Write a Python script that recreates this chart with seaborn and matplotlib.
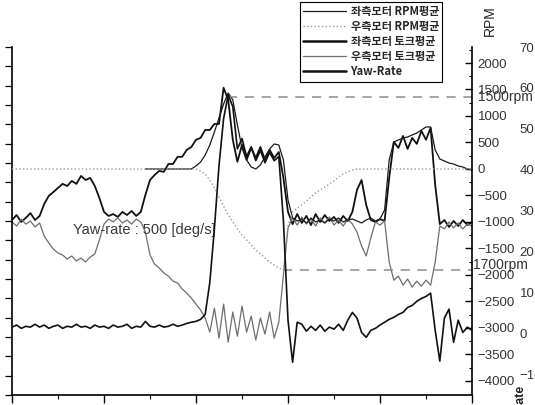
import numpy as np
import matplotlib.pyplot as plt
from matplotlib.lines import Line2D
from matplotlib.ticker import MultipleLocator
from matplotlib.font_manager import FontProperties
import seaborn as sns

# ---- data ----
# time [s], one reading every 0.5 s
time = np.arange(0, 50.5, 0.5)

# motor torque averages (left axis, unlabeled in the crop)
torque_left = [
    0.5, 3.1, -0.5, 1.6, 4.1, 0.5, 2.6, 8.8, 13.0, 15.0,
    17.1, 19.2, 18.1, 20.7, 19.2, 23.3, 21.2, 22.3, 18.1, 11.9,
    4.7, 2.6, 3.6, 2.1, 4.7, 3.1, 5.2, 2.6, 4.7, 13.5,
    21.2, 23.8, 25.9, 25.4, 29.5, 29.5, 33.2, 33.2, 36.8, 38.3,
    42.0, 43.0, 47.1, 47.1, 50.2, 50.2, 68.9, 62.7, 42.0, 30.6,
    39.4, 31.6, 37.8, 32.6, 38.3, 31.6, 36.8, 32.6, 35.7, 22.3,
    4.7, -1.6, 3.6, -1.0, 2.6, -2.1, 3.6, -0.5, 3.1, 0.0,
    2.1, -1.0, 2.6, 0.0, 4.7, 16.1, 21.2, 8.3, 0.5, -0.5,
    1.0, 0.0, 22.3, 40.9, 37.8, 44.0, 37.3, 43.0, 39.9, 46.6,
    42.0, 48.2, 18.6, -1.6, 0.5, -3.1, 0.0, -2.6, 0.5, -2.1,
    -0.5,
]
torque_right = [
    -0.5, -2.6, 1.0, -1.6, 0.0, -3.1, -1.0, -7.8, -11.4, -14.5,
    -16.6, -17.6, -19.7, -18.1, -20.7, -19.2, -21.2, -18.6, -17.1, -9.8,
    -1.6, 1.0, -0.5, 1.6, -1.0, 0.5, -1.6, 1.0, -0.5, -5.7,
    -17.6, -22.3, -24.3, -26.9, -28.5, -31.1, -32.1, -35.2, -37.3, -39.9,
    -43.0, -46.1, -50.2, -57.5, -45.1, -60.6, -43.0, -62.7, -47.1, -59.6,
    -44.0, -57.5, -49.2, -61.6, -50.2, -58.5, -47.1, -60.6, -52.3, -28.0,
    -3.6, 1.6, -2.1, 2.1, -1.6, 1.0, -2.6, 1.6, -1.0, 2.1,
    -2.1, 0.5, -2.6, 1.0, -1.6, -5.7, -13.0, -18.1, -8.8, -0.5,
    -2.1, 0.0, -21.2, -30.6, -28.5, -33.2, -30.0, -34.2, -31.1, -33.7,
    -30.6, -33.2, -21.2, -2.6, -4.1, -0.5, -3.6, -1.0, -4.1, -1.6,
    -2.6,
]

# motor RPM averages (right RPM axis); left trace only visible from 14.5 s
time_rpm_left = np.arange(14.5, 50.5, 0.5)
rpm_left = [
    0, 0, 0, 0, 0, 0, 0, 0, 0, 0, 0,
    57, 132, 264, 453, 698, 962, 1227, 1434, 1302, 830,
    396, 170, 38, 0, 75, 226, 377, 472, 453, 170,
    -585, -925, -981, -944, -1019, -925, -1000, -962, -1019, -944,
    -981, -925, -1000, -962, -944, -981, -1019, -962, -925, -981,
    -944, -774, 170, 509, 547, 585, 604, 642, 679, 736,
    793, 793, 359, 189, 151, 113, 94, 57, 38, 0,
    -19,
]
rpm_right = [
    0, 0, 0, 0, 0, 0, 0, 0, 0, 0,
    0, 0, 0, 0, 0, 0, 0, 0, 0, 0,
    0, 0, 0, 0, 0, 0, 0, 0, 0, 0,
    0, 0, 0, 0, 0, 0, 0, 0, 0, 0,
    0, -38, -94, -208, -359, -528, -698, -868, -1000, -1132,
    -1245, -1340, -1434, -1528, -1604, -1679, -1755, -1812, -1868, -1906,
    -1057, -811, -736, -679, -604, -528, -453, -396, -340, -283,
    -226, -151, -94, -57, -19, 0, 0, 0, 0, 0,
    0, 0, 0, 0, 0, 0, 0, 0, 0, 0,
    0, 0, 0, 0, 0, 0, 0, 0, 0, 0,
    0,
]

# yaw rate (third axis, deg/s)
yaw_rate = [
    1.5, 2.0, 1.2, 1.7, 1.5, 2.2, 1.5, 2.0, 1.2, 1.7,
    2.0, 1.2, 1.7, 1.5, 2.2, 1.5, 1.7, 1.2, 2.0, 1.5,
    1.7, 1.2, 2.0, 1.5, 1.7, 2.2, 1.2, 1.7, 1.5, 2.9,
    1.7, 1.5, 2.0, 1.5, 1.7, 2.2, 1.7, 2.0, 2.4, 2.7,
    2.9, 3.4, 4.6, 12.4, 25.6, 41.0, 52.5, 58.3, 55.4, 45.1,
    47.6, 43.2, 45.6, 42.2, 44.7, 41.7, 44.2, 42.2, 43.2, 27.6,
    3.2, -7.1, 2.7, 2.2, 0.5, 1.7, 0.7, 2.0, 0.5, 1.5,
    1.0, 2.2, 0.7, 3.2, 5.1, 3.7, 0.2, -1.0, 0.7, 1.2,
    2.0, 2.7, 3.4, 3.9, 4.6, 5.1, 6.3, 6.8, 7.8, 8.5,
    9.0, 9.8, 0.7, -6.8, 3.7, 5.9, -2.2, 3.2, 0.2, 1.5,
    0.7,
]

# reference rpm marker lines
marker_rpm = [1359, -1906]
marker_start = [23.5, 29.5]
marker_text = ["1500rpm", "1700rpm"]

series_labels = ["좌측모터 RPM평균", "우측모터 RPM평균", "좌측모터 토크평균",
                 "우측모터 토크평균", "Yaw-Rate"]

# ---- styling ----
sns.set_theme(style="ticks")
plt.rcParams["font.family"] = ["Noto Sans CJK KR", "DejaVu Sans"]
NUMF = ["Liberation Sans", "DejaVu Sans"]

fig = plt.figure(figsize=(5.35, 4.05), dpi=100, facecolor="white")
ax = fig.add_axes([12 / 535, 10 / 405, 460 / 535, 348 / 405])
ax2 = ax.twinx()
ax3 = ax.twinx()

sns.lineplot(x=time, y=torque_left, ax=ax, color="#111111", lw=1.3)
sns.lineplot(x=time, y=torque_right, ax=ax, color="#6e6e6e", lw=0.9)
sns.lineplot(x=time_rpm_left, y=rpm_left, ax=ax2, color="#1a1a1a", lw=0.9)
sns.lineplot(x=time, y=rpm_right, ax=ax2, color="#9a9a9a", lw=1.0, linestyle=":")
sns.lineplot(x=time, y=yaw_rate, ax=ax3, color="#111111", lw=1.2)

ax2.hlines(marker_rpm, marker_start, 50, colors="#8c8c8c", linestyles=(0, (6, 5)), lw=1.1)

# left (torque) axis
ax.set_xlim(0, 50)
ax.set_ylim(-90, 90)
ax.xaxis.set_major_locator(MultipleLocator(10))
ax.xaxis.set_minor_locator(MultipleLocator(5))
ax.yaxis.set_major_locator(MultipleLocator(10))
ax.tick_params(axis="both", which="both", direction="out", labelbottom=False,
               labelleft=False, color="black")
ax.tick_params(axis="x", which="major", length=6, width=1.0)
ax.tick_params(axis="x", which="minor", length=3, width=0.8)
ax.tick_params(axis="y", length=5, width=0.9)
ax.spines["top"].set_visible(False)
ax.spines["right"].set_visible(False)
for s in ["left", "bottom"]:
    ax.spines[s].set_color("black")
    ax.spines[s].set_linewidth(1.2)
ax.set_xlabel("")
ax.set_ylabel("")

# RPM axis
ax2.set_ylim(-4265, 2302)
ax2.yaxis.set_major_locator(MultipleLocator(500))
ax2.yaxis.set_minor_locator(MultipleLocator(250))
ax2.tick_params(axis="y", which="major", direction="in", length=5, width=1.0,
                pad=4, labelsize=9.5, labelcolor="#333333", color="black")
ax2.tick_params(axis="y", which="minor", direction="in", length=2.5, width=0.8, color="black")
for s in ["top", "left", "bottom"]:
    ax2.spines[s].set_visible(False)
ax2.spines["right"].set_color("black")
ax2.spines["right"].set_linewidth(1.2)
ax2.set_ylabel("")
plt.setp(ax2.get_yticklabels(), family=NUMF)

# yaw-rate axis (its spine lies outside the crop)
ax3.set_ylim(-15.1, 69.8)
ax3.set_yticks(range(-10, 80, 10))
ax3.spines["right"].set_position(("outward", 32.4))
for s in ax3.spines.values():
    s.set_visible(False)
ax3.tick_params(axis="y", length=0, pad=2, labelsize=9.5, labelcolor="#333333")
ax3.set_ylabel("")
plt.setp(ax3.get_yticklabels(), family=NUMF)

# texts
ax.text(6.6, -4.7, "Yaw-rate : 500 [deg/s]", family=NUMF, fontsize=10.5,
        color="#3a3a3a", va="center", ha="left")
for v, s, off in zip(marker_rpm, marker_text, [(4.3, 0), (0.7, 3.6)]):
    ax2.annotate(s, xy=(1, v), xycoords=("axes fraction", "data"), xytext=off,
                 textcoords="offset points", family=NUMF, fontsize=10,
                 color="#333333", va="center", ha="left")
fig.text(490 / 535, 1 - 21 / 405, "RPM", rotation=90, ha="center", va="center",
         fontsize=10, color="#222222", family=NUMF)
fig.text(521 / 535, 1 - 385 / 405, "Yaw-rate", rotation=90, ha="center", va="top",
         fontsize=9, fontweight="bold", color="#222222", family=NUMF)

# legend
handles = [
    Line2D([], [], color="#1a1a1a", lw=0.9),
    Line2D([], [], color="#9a9a9a", lw=1.0, ls=":"),
    Line2D([], [], color="#111111", lw=1.8),
    Line2D([], [], color="#6e6e6e", lw=0.9),
    Line2D([], [], color="#111111", lw=1.8),
]
leg = fig.legend(handles, series_labels, loc="upper left",
                 bbox_to_anchor=(300 / 535, 1 - 2 / 405), frameon=True, fancybox=False,
                 edgecolor="black", framealpha=1, handlelength=3.8, handletextpad=0.45,
                 borderpad=0.3, labelspacing=0.18, borderaxespad=0,
                 prop=FontProperties(family=["Noto Sans CJK KR", "DejaVu Sans"],
                                     weight="bold", size=8))
leg.get_frame().set_linewidth(0.8)

fig.savefig("out.png", dpi=100, facecolor="white")
